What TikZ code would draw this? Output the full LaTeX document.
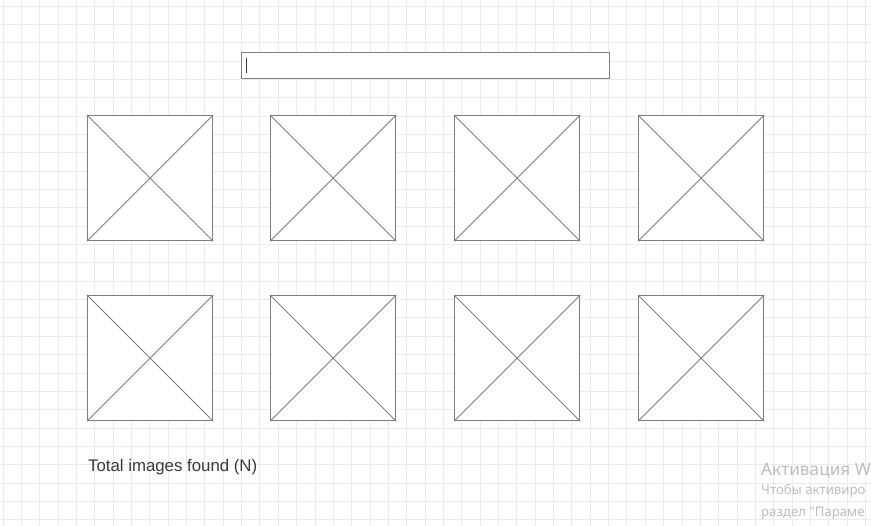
\documentclass[tikz,border=0pt]{standalone}
\usepackage{fontspec}
\setmainfont{Liberation Sans}
\newfontfamily\winfont{Noto Sans}
\usetikzlibrary{positioning}
\definecolor{gridgray}{HTML}{EBEBEB}
\definecolor{wireline}{HTML}{7F7F7F}
\definecolor{labeltext}{HTML}{3A3A3A}
\definecolor{watermark}{HTML}{BEBEBE}

\begin{document}
\begin{tikzpicture}[x=1pt,y=-1pt,
  imgbox/.style={draw=wireline,line width=1.3pt,fill=white,minimum size=125pt,
    inner sep=0pt,anchor=north west},
  searchbox/.style={draw=wireline,line width=1.3pt,fill=white,minimum width=368pt,
    minimum height=26pt,inner sep=0pt,anchor=north west},
  cross/.style={wireline,line width=0.9pt},
  wintext/.style={watermark,anchor=base west,inner sep=0pt,font=\winfont}]
  \useasboundingbox (0,0) rectangle (871,526);
  \fill[white] (0,0) rectangle (871,526);
  % background grid
  \foreach \gx in {0,...,47}
    \draw[gridgray,line width=0.9pt] ({3+18.35*\gx},0) -- ++(0,526);
  \foreach \gy in {0,...,28}
    \draw[gridgray,line width=0.9pt] (0,{6+18.35*\gy}) -- ++(871,0);

  % search field with cursor
  \node[searchbox] (search) at (241,52) {};
  \draw[labeltext,line width=1pt] ([shift={(5,-7.5)}]search.west) -- ([shift={(5,7.5)}]search.west);

  % image placeholders
  \foreach \row/\cy in {1/115,2/295}
    \foreach \col/\cx in {1/87,2/270,3/454,4/638} {
      \node[imgbox] (img\row\col) at (\cx,\cy) {};
      \draw[cross] (img\row\col.north west) -- (img\row\col.south east)
        (img\row\col.north east) -- (img\row\col.south west);
    }

  \node[anchor=base west,inner sep=0pt,text=labeltext,font=\fontsize{16.8}{19}\selectfont]
    (total) at (88,471.5) {Total images found (N)};

  % activation watermark, cut off at the right edge
  \begin{scope}
    \clip (0,0) rectangle (871,526);
    \node[wintext,font=\winfont\fontsize{17.2}{20}\selectfont] (wm1) at (761,475.7) {Активация W};
    \node[wintext,font=\winfont\fontsize{13.2}{15}\selectfont] (wm2) at (761,495) {Чтобы активиро};
    \node[wintext,font=\winfont\fontsize{13.2}{15}\selectfont] (wm3) at (761,516.7) {раздел "Параме};
  \end{scope}
\end{tikzpicture}
\end{document}
